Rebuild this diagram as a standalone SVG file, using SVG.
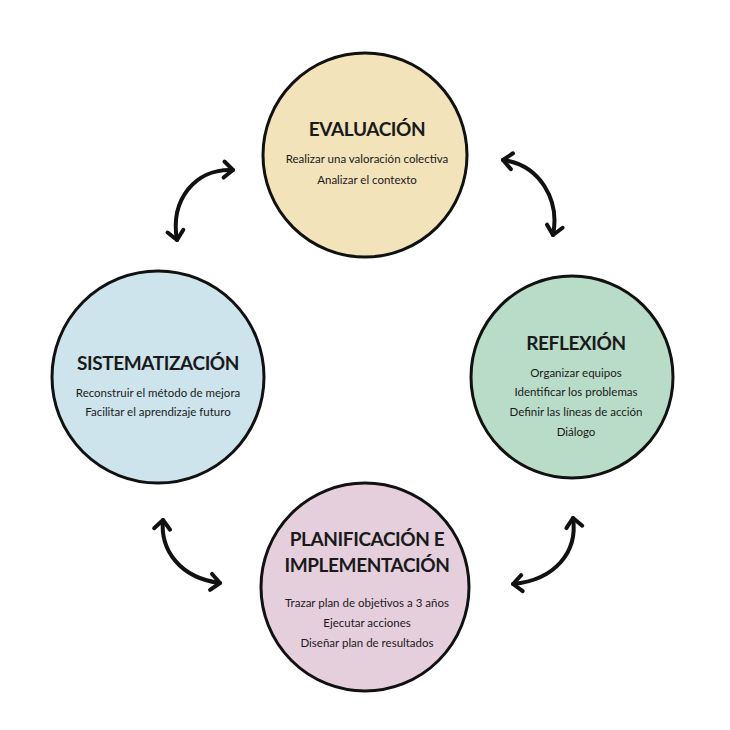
<svg xmlns="http://www.w3.org/2000/svg" width="730" height="730" viewBox="0 0 730 730">
<style>
.c{stroke:#111;stroke-width:3}
.t{font-family:Lato,"Liberation Sans",sans-serif;font-weight:bold;font-size:19px;letter-spacing:-0.4px;fill:#1a1a1a;text-anchor:middle}
.s{font-family:Lato,"Liberation Sans",sans-serif;font-size:11.5px;fill:#1a1a1a;text-anchor:middle}
.a{fill:none;stroke:#111;stroke-width:4;stroke-linecap:round;marker-start:url(#h);marker-end:url(#h)}
</style>
<defs>
<marker id="h" viewBox="-10 -10 20 20" markerWidth="20" markerHeight="20" orient="auto-start-reverse" markerUnits="userSpaceOnUse" refX="0" refY="0" style="overflow:visible">
<polyline points="-9,-8 0,0 -9,8" fill="none" stroke="#111" stroke-width="4" stroke-linecap="round" stroke-linejoin="round"/>
</marker>
</defs>
<rect width="730" height="730" fill="#fff"/>
<g id="evaluacion">
<circle cx="365" cy="155" r="102" fill="#f3e3bb" class="c"/>
<text class="t" x="367" y="136">EVALUACIÓN</text>
<text class="s" x="367" y="163">Realizar una valoración colectiva</text>
<text class="s" x="367" y="184">Analizar el contexto</text>
</g>
<g id="reflexion">
<circle cx="572" cy="377" r="101" fill="#b9dcc8" class="c"/>
<text class="t" x="576" y="350">REFLEXIÓN</text>
<text class="s" x="576" y="377">Organizar equipos</text>
<text class="s" x="576" y="396">Identificar los problemas</text>
<text class="s" x="576" y="416">Definir las líneas de acción</text>
<text class="s" x="576" y="436">Diálogo</text>
</g>
<g id="sistematizacion">
<circle cx="158" cy="377" r="106" fill="#cde4ec" class="c"/>
<text class="t" x="158" y="370">SISTEMATIZACIÓN</text>
<text class="s" x="158" y="397">Reconstruir el método de mejora</text>
<text class="s" x="158" y="416">Facilitar el aprendizaje futuro</text>
</g>
<g id="planificacion">
<circle cx="365" cy="587" r="104" fill="#e6cfdd" class="c"/>
<text class="t" x="367" y="546">PLANIFICACIÓN E</text>
<text class="t" x="367" y="572">IMPLEMENTACIÓN</text>
<text class="s" x="367" y="607">Trazar plan de objetivos a 3 años</text>
<text class="s" x="367" y="627">Ejecutar acciones</text>
<text class="s" x="367" y="647">Diseñar plan de resultados</text>
</g>
<g id="connectors">
<path class="a" d="M233,170 C195,168 170,200 177,240"/>
<path class="a" d="M503,160 C540,165 560,200 553,235"/>
<path class="a" d="M163,520 C160,550 180,578 220,583"/>
<path class="a" d="M573,518 C578,552 555,580 513,584"/>
</g>
</svg>
